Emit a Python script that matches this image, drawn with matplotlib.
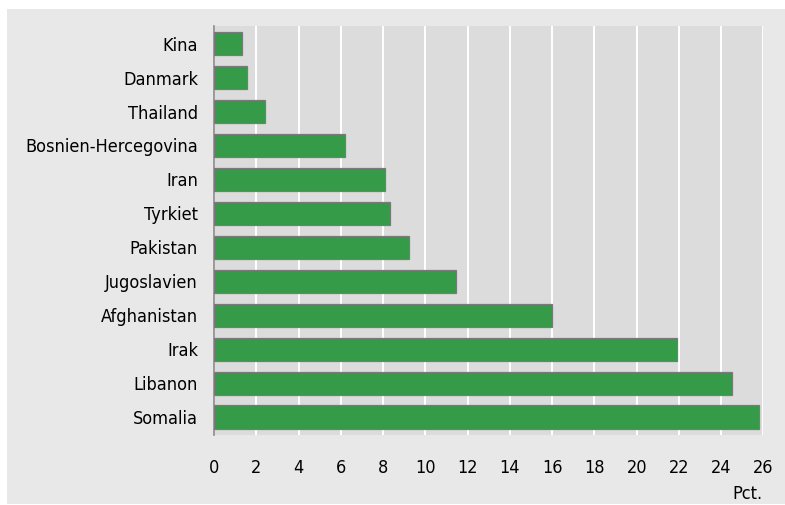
import matplotlib.pyplot as plt
from matplotlib.patches import Rectangle

countries = ['Kina', 'Danmark', 'Thailand', 'Bosnien-Hercegovina', 'Iran', 'Tyrkiet',
             'Pakistan', 'Jugoslavien', 'Afghanistan', 'Irak', 'Libanon', 'Somalia']
pct = [1.33, 1.57, 2.4, 6.19, 8.09, 8.35, 9.25, 11.46, 16.0, 21.9, 24.5, 25.8]
xticks = list(range(0, 27, 2))

plt.rcParams['font.family'] = ['DejaVu Sans']
plt.rcParams['font.stretch'] = 'condensed'

fig = plt.figure(figsize=(7.85, 5.05), dpi=100, facecolor='white')
# light grey panel behind everything
fig.patches.append(Rectangle((7 / 785, 1 / 505), 1 - 7 / 785, 1 - 10 / 505,
                             transform=fig.transFigure, facecolor='#e8e8e8',
                             edgecolor='none', zorder=-5))

ax = fig.add_axes([214 / 785, 1 - 435 / 505, 549.5 / 785, 409 / 505])
ax.set_zorder(2)
ax.set_facecolor('#dcdcdc')
ax.barh(range(len(countries)), pct, height=0.68, color='#359b48',
        edgecolor='#7a7a7a', linewidth=0.9, zorder=3)
ax.set_xlim(0, 26)
ax.set_ylim(11.53, -0.52)
ax.set_yticks(range(len(countries)))
ax.set_yticklabels(countries, fontsize=13)
ax.set_xticks(xticks)
ax.set_xticklabels([str(t) for t in xticks], fontsize=13)
ax.tick_params(length=0)
ax.tick_params(axis='y', pad=11.5)
ax.tick_params(axis='x', pad=17)
ax.xaxis.grid(True, color='white', linewidth=1.4)
ax.set_axisbelow(True)
for s in ['top', 'right', 'bottom']:
    ax.spines[s].set_visible(False)
ax.spines['left'].set_color('#8a8a8a')
ax.spines['left'].set_linewidth(1.2)

fig.text(763 / 785, 1 - 494 / 505, 'Pct.', ha='right', va='center', fontsize=13,
         zorder=5)

fig.savefig('out.png', dpi=100, facecolor='white')
